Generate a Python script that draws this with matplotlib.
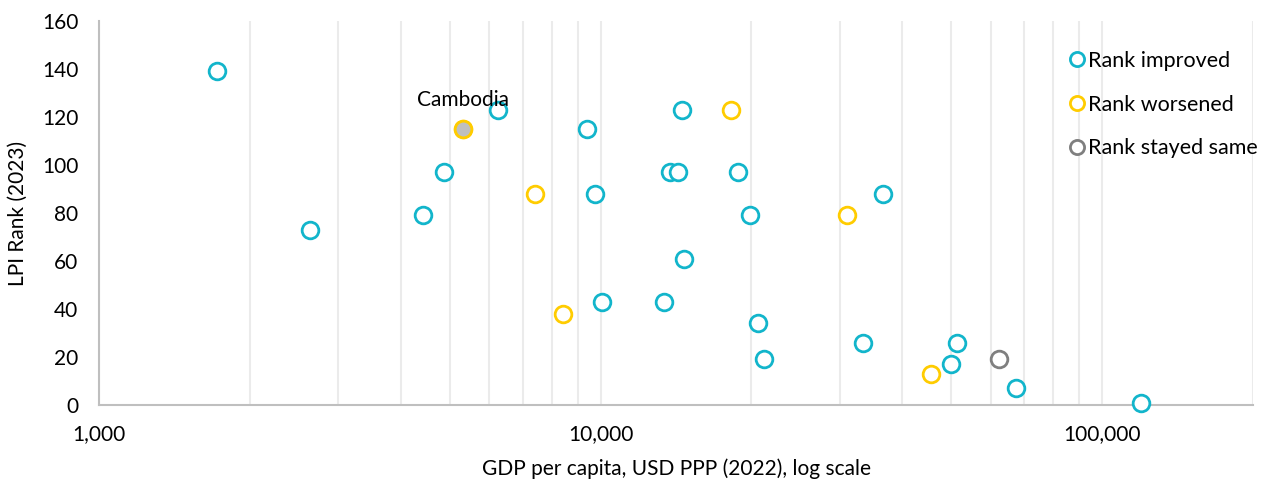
import matplotlib
matplotlib.use("Agg")
import matplotlib.pyplot as plt
from matplotlib.ticker import FixedLocator, FuncFormatter, NullFormatter

plt.rcParams['font.family'] = ['Lato', 'DejaVu Sans']

# GDP per capita (USD PPP 2022) and LPI rank (2023)
improved_gdp = [1720, 2640, 4420, 4870, 6260, 9380, 9770, 10090, 13410, 13730,
                14240, 14570, 14640, 18830, 19900, 20640, 21220, 33420, 36630,
                50030, 51430, 67420, 119600]
improved_rank = [139, 73, 79, 97, 123, 115, 88, 43, 43, 97,
                 97, 123, 61, 97, 79, 34, 19, 26, 88,
                 17, 26, 7, 1]

worsened_gdp = [5330, 7390, 8400, 18240, 31050, 45650]
worsened_rank = [115, 88, 38, 123, 79, 13]

same_gdp = [62340]
same_rank = [19]

highlight_label = "Cambodia"
highlight_gdp = 5330
highlight_rank = 115

x_ticks = [1000, 10000, 100000]
y_ticks = [0, 20, 40, 60, 80, 100, 120, 140, 160]

c_improved = "#12B5CB"
c_worsened = "#FFCC00"
c_same = "#7F7F7F"

fig = plt.figure(figsize=(12.72, 4.79), dpi=100)
ax = fig.add_axes([99 / 1272, 1 - 405 / 479, (1253 - 99) / 1272, (405 - 21) / 479])

mk = dict(marker='o', linestyle='none', markersize=12, markeredgewidth=2,
          markerfacecolor='white', clip_on=False, zorder=3)
ax.plot(improved_gdp, improved_rank, markeredgecolor=c_improved, label='Rank improved', **mk)
ax.plot(worsened_gdp, worsened_rank, markeredgecolor=c_worsened, label='Rank worsened', **mk)
ax.plot(same_gdp, same_rank, markeredgecolor=c_same, label='Rank stayed same', **mk)

# highlighted country
ax.plot([highlight_gdp], [highlight_rank], marker='o', linestyle='none', markersize=12,
        markeredgewidth=2, markeredgecolor=c_worsened, markerfacecolor='#BFBFBF', zorder=4)
ax.annotate(highlight_label, (highlight_gdp, highlight_rank), xytext=(0, 21),
            textcoords='offset points', ha='center', va='center', fontsize=15, color='black')

ax.set_xscale('log')
ax.set_xlim(1000, 200000)
ax.set_ylim(0, 160)
ax.xaxis.set_major_locator(FixedLocator(x_ticks))
ax.xaxis.set_major_formatter(FuncFormatter(lambda v, p: f"{int(v):,}"))
ax.xaxis.set_minor_formatter(NullFormatter())
ax.set_yticks(y_ticks)

ax.grid(which='both', axis='x', color='#EBEBEB', linewidth=1.5, zorder=0)
ax.set_axisbelow(True)
ax.tick_params(which='both', length=0, labelsize=15, colors='black')
ax.tick_params(axis='y', pad=15)
ax.tick_params(axis='x', pad=14)

for side in ['top', 'right']:
    ax.spines[side].set_visible(False)
for side in ['left', 'bottom']:
    ax.spines[side].set_color('#BFBFBF')
    ax.spines[side].set_linewidth(1.5)

ax.set_xlabel('GDP per capita, USD PPP (2022), log scale', fontsize=15, labelpad=10)
ax.set_ylabel('LPI Rank (2023)', fontsize=15, labelpad=10)

leg = fig.legend(loc='upper left', bbox_to_anchor=(1068 / 1272, 1 - 51 / 479),
                 frameon=False, fontsize=15.5, handlelength=0.8, handletextpad=0.15,
                 labelspacing=1.1, borderpad=0, borderaxespad=0, markerscale=0.85)

fig.savefig('out.png', dpi=100)
